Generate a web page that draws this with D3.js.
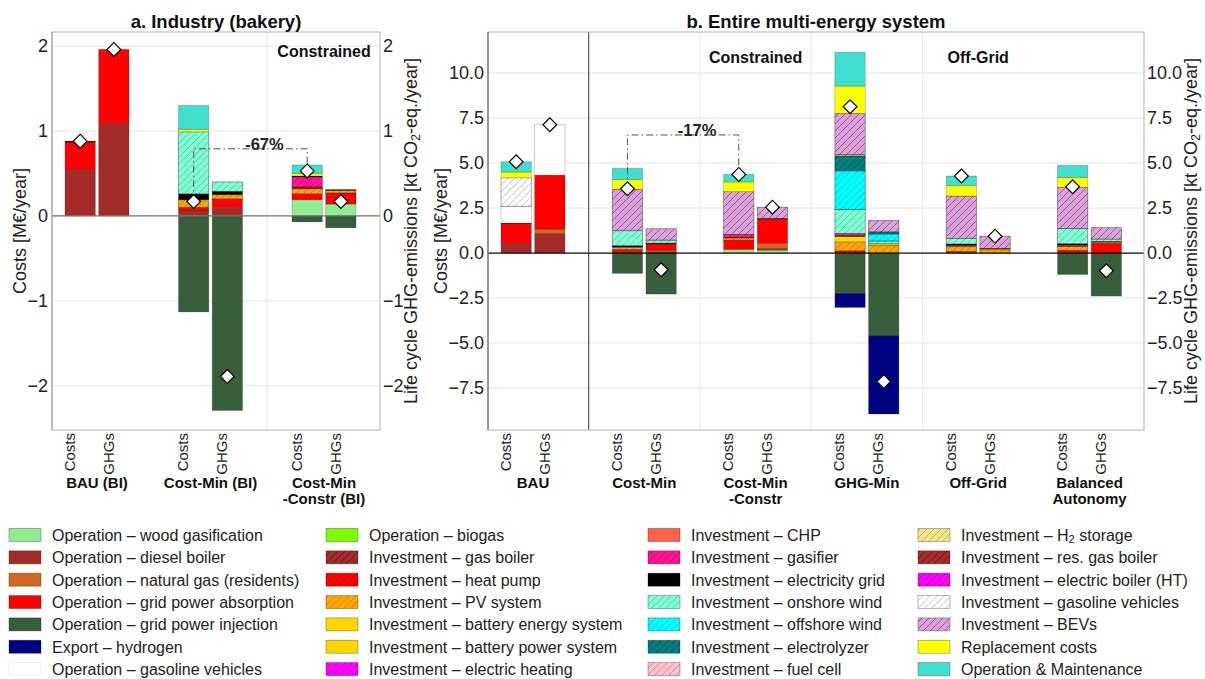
<!DOCTYPE html>
<html>
<head>
<meta charset="utf-8">
<script src="https://cdn.jsdelivr.net/npm/d3@7"></script>
<style>
  body { margin: 0; background: #fff; }
  svg { font-family: "Liberation Sans", Arial, sans-serif; }
</style>
</head>
<body>
<svg width="1205" height="679"></svg>
<script>
// ---- components (legend order, column by column) ----
const componentKeys = [
  'woodOp', 'dieselOp', 'gasResOp', 'gridAbs', 'gridInj', 'h2Exp', 'gasolineOp',
  'biogasOp', 'gasBoilerInv', 'heatPumpInv', 'pvInv', 'batEInv', 'batPInv', 'elHeatInv',
  'chpInv', 'gasifierInv', 'gridInv', 'onshoreInv', 'offshoreInv', 'electrolyzerInv', 'fuelCellInv',
  'h2StorInv', 'resBoilerInv', 'elBoilerInv', 'gasolineInv', 'bevInv', 'replacement', 'om'
];
const componentLabels = [
  'Operation – wood gasification', 'Operation – diesel boiler', 'Operation – natural gas (residents)',
  'Operation – grid power absorption', 'Operation – grid power injection', 'Export – hydrogen',
  'Operation – gasoline vehicles',
  'Operation – biogas', 'Investment – gas boiler', 'Investment – heat pump', 'Investment – PV system',
  'Investment – battery energy system', 'Investment – battery power system', 'Investment – electric heating',
  'Investment – CHP', 'Investment – gasifier', 'Investment – electricity grid', 'Investment – onshore wind',
  'Investment – offshore wind', 'Investment – electrolyzer', 'Investment – fuel cell',
  'Investment – H₂ storage', 'Investment – res. gas boiler', 'Investment – electric boiler (HT)',
  'Investment – gasoline vehicles', 'Investment – BEVs', 'Replacement costs', 'Operation & Maintenance'
];
const componentColors = [
  '#90EE90', '#A52A2A', '#D2691E', '#FF0000', '#365E3C', '#000080', '#FFFFFF',
  '#7CFC00', '#A52A2A', '#FF0000', '#FFA500', '#FFD700', '#FFD700', '#FF00FF',
  '#FF6347', '#FF1493', '#000000', '#7FFFD4', '#00FFFF', '#008080', '#FFC0CB',
  '#F0E68C', '#A52A2A', '#FF00FF', '#FFFFFF', '#DDA0DD', '#FFFF00', '#40E0D0'
];
const hatchedKeys = [
  'gasBoilerInv', 'heatPumpInv', 'pvInv', 'elHeatInv', 'gasifierInv', 'onshoreInv', 'offshoreInv',
  'electrolyzerInv', 'fuelCellInv', 'h2StorInv', 'resBoilerInv', 'elBoilerInv', 'gasolineInv', 'bevInv'
];
const darkHatchKeys = ['gasBoilerInv', 'resBoilerInv', 'elBoilerInv', 'electrolyzerInv', 'bevInv'];

const metrics = ['Costs', 'GHGs'];

// ---- a. Industry (bakery) ----
const industryScenarios = ['BAU (BI)', 'Cost-Min (BI)', 'Cost-Min\n-Constr (BI)'];
const industryCosts = [
  [['dieselOp', 0.55], ['gridAbs', 0.32], ['gridInv', 0.01]],
  [['dieselOp', 0.07], ['gridAbs', 0.03], ['pvInv', 0.09], ['gridInv', 0.07], ['onshoreInv', 0.73],
   ['replacement', 0.03], ['om', 0.28], ['gridInj', -1.13]],
  [['woodOp', 0.19], ['gridAbs', 0.07], ['pvInv', 0.06], ['gasBoilerInv', 0.02], ['gasifierInv', 0.12],
   ['gridInv', 0.01], ['replacement', 0.03], ['om', 0.10], ['gridInj', -0.07]]
];
const industryGhgs = [
  [['dieselOp', 1.09], ['gridAbs', 0.87]],
  [['dieselOp', 0.10], ['gridAbs', 0.10], ['pvInv', 0.05], ['gridInv', 0.04], ['onshoreInv', 0.11],
   ['gridInj', -2.29]],
  [['woodOp', 0.14], ['gridAbs', 0.13], ['pvInv', 0.03], ['gridInv', 0.01], ['gridInj', -0.14]]
];
const industryTicks = [-2, -1, 0, 1, 2];

// ---- b. Entire multi-energy system ----
const systemScenarios = ['BAU', 'Cost-Min', 'Cost-Min\n-Constr', 'GHG-Min', 'Off-Grid', 'Balanced\nAutonomy'];
const systemCosts = [
  [['dieselOp', 0.54], ['gridAbs', 1.11], ['gridInv', 0.02], ['gasolineOp', 0.93], ['gasolineInv', 1.58],
   ['replacement', 0.32], ['om', 0.57]],
  [['dieselOp', 0.07], ['gridAbs', 0.13], ['pvInv', 0.10], ['batEInv', 0.03], ['gridInv', 0.08],
   ['onshoreInv', 0.83], ['bevInv', 2.31], ['replacement', 0.54], ['om', 0.61], ['gridInj', -1.13]],
  [['woodOp', 0.20], ['gridAbs', 0.52], ['pvInv', 0.12], ['gridInv', 0.03], ['gasifierInv', 0.17],
   ['bevInv', 2.37], ['replacement', 0.54], ['om', 0.42]],
  [['gridAbs', 0.12], ['pvInv', 0.50], ['batEInv', 0.30], ['gridInv', 0.05], ['gasifierInv', 0.12],
   ['onshoreInv', 1.34], ['offshoreInv', 2.14], ['electrolyzerInv', 0.83], ['h2StorInv', 0.08],
   ['bevInv', 2.28], ['replacement', 1.52], ['om', 1.87], ['gridInj', -2.24], ['h2Exp', -0.78]],
  [['heatPumpInv', 0.08], ['pvInv', 0.30], ['gasifierInv', 0.06], ['gridInv', 0.06], ['onshoreInv', 0.30],
   ['bevInv', 2.37], ['replacement', 0.57], ['om', 0.54]],
  [['gridAbs', 0.15], ['pvInv', 0.22], ['gasifierInv', 0.08], ['gridInv', 0.07], ['onshoreInv', 0.85],
   ['bevInv', 2.28], ['replacement', 0.55], ['om', 0.67], ['gridInj', -1.19]]
];
const systemGhgs = [
  [['dieselOp', 1.09], ['gasResOp', 0.23], ['gridAbs', 3.01], ['gasolineOp', 2.80]],
  [['dieselOp', 0.08], ['gasResOp', 0.08], ['gridAbs', 0.34], ['gridInv', 0.05], ['onshoreInv', 0.17],
   ['bevInv', 0.63], ['gridInj', -2.28]],
  [['woodOp', 0.16], ['dieselOp', 0.10], ['gasResOp', 0.28], ['gridAbs', 1.34], ['gridInv', 0.05],
   ['bevInv', 0.62]],
  [['pvInv', 0.44], ['batEInv', 0.08], ['onshoreInv', 0.15], ['offshoreInv', 0.39], ['electrolyzerInv', 0.12],
   ['bevInv', 0.62], ['gridInj', -4.61], ['h2Exp', -4.33]],
  [['pvInv', 0.22], ['gridInv', 0.04], ['bevInv', 0.68]],
  [['gridAbs', 0.54], ['pvInv', 0.07], ['gridInv', 0.04], ['onshoreInv', 0.13], ['bevInv', 0.63],
   ['gridInj', -2.39]]
];
const systemTicks = [-7.5, -5, -2.5, 0, 2.5, 5, 7.5, 10];

// ---- setup ----
const FONT = '"Liberation Sans", Arial, sans-serif';
const svg = d3.select('svg');
const defs = svg.append('defs');
const colorOf = d3.scaleOrdinal().domain(componentKeys).range(componentColors);

hatchedKeys.forEach((key) => {
  const p = defs.append('pattern')
    .attr('id', 'hatch-' + key)
    .attr('patternUnits', 'userSpaceOnUse')
    .attr('width', 7)
    .attr('height', 7);
  p.append('rect').attr('width', 7).attr('height', 7).attr('fill', colorOf(key));
  p.append('path')
    .attr('d', 'M-1,1L1,-1M0,7L7,0M6,8L8,6')
    .attr('stroke', darkHatchKeys.includes(key) ? 'rgba(0,0,0,0.55)' : 'rgba(0,0,0,0.3)')
    .attr('stroke-width', 0.7);
});

function fillOf(key) {
  return hatchedKeys.includes(key) ? `url(#hatch-${key})` : colorOf(key);
}

function stackSegments(segs) {
  let pos = 0;
  let neg = 0;
  return segs.map(([key, v]) => {
    let y0;
    if (v >= 0) { y0 = pos; pos += v; return { key, y0, y1: pos }; }
    y0 = neg; neg += v;
    return { key, y0, y1: neg };
  });
}

// text with "₂" rendered as a subscript
function richText(sel, str, size) {
  const parts = str.split('₂');
  sel.append('tspan').text(parts[0]);
  if (parts.length > 1) {
    sel.append('tspan').attr('dy', size * 0.25).attr('font-size', size * 0.7).text('2');
    sel.append('tspan').attr('dy', -size * 0.25).text(parts[1]);
  }
}

function drawPanel(cfg) {
  const g = svg.append('g');
  const y = d3.scaleLinear().domain(cfg.domain).range([cfg.bottom, cfg.top]);
  const x = d3.scalePoint().domain(cfg.scenarios).range(cfg.centers);
  const inner = d3.scaleBand().domain(metrics).range([-32, 32]).paddingInner(0.1);
  const bw = inner.bandwidth();

  // horizontal grid
  g.append('g').selectAll('line').data(cfg.ticks).join('line')
    .attr('x1', cfg.left).attr('x2', cfg.right)
    .attr('y1', d => y(d)).attr('y2', d => y(d))
    .attr('stroke', '#e6e6e6');

  // group separators
  cfg.separators.forEach(([i, solid]) => {
    const sx = (x(cfg.scenarios[i]) + x(cfg.scenarios[i + 1])) / 2;
    g.append('line')
      .attr('x1', sx).attr('x2', sx).attr('y1', cfg.top).attr('y2', cfg.bottom)
      .attr('stroke', solid ? '#555' : '#ececec')
      .attr('stroke-width', solid ? 1.2 : 1);
  });

  // stacked bars
  const bars = [];
  cfg.scenarios.forEach((s, i) => {
    bars.push({ scenario: s, metric: 'Costs', segs: cfg.costs[i] });
    bars.push({ scenario: s, metric: 'GHGs', segs: cfg.ghgs[i] });
  });
  bars.forEach((b) => {
    const bx = x(b.scenario) + inner(b.metric);
    g.append('g').selectAll('rect').data(stackSegments(b.segs)).join('rect')
      .attr('x', bx)
      .attr('width', bw)
      .attr('y', d => y(Math.max(d.y0, d.y1)))
      .attr('height', d => Math.abs(y(d.y0) - y(d.y1)))
      .attr('fill', d => fillOf(d.key))
      .attr('stroke', d => (hatchedKeys.includes(d.key) ? 'rgba(0,0,0,0.5)' : 'rgba(0,0,0,0.28)'))
      .attr('stroke-width', 0.7);
  });

  // zero line
  g.append('line')
    .attr('x1', cfg.left).attr('x2', cfg.right).attr('y1', y(0)).attr('y2', y(0))
    .attr('stroke', cfg.zeroColor).attr('stroke-width', 1.2);

  // reduction bracket
  const br = cfg.bracket;
  const cx1 = x(cfg.scenarios[br.from]) + inner('Costs') + bw / 2;
  const cx2 = x(cfg.scenarios[br.to]) + inner('Costs') + bw / 2;
  const net1 = d3.sum(cfg.costs[br.from], d => d[1]);
  const net2 = d3.sum(cfg.costs[br.to], d => d[1]);
  g.append('path')
    .attr('d', `M${cx1},${y(net1)}V${y(br.level)}H${cx2}V${y(net2)}`)
    .attr('fill', 'none')
    .attr('stroke', '#555')
    .attr('stroke-width', 1)
    .attr('stroke-dasharray', '7,3,1.5,3');
  g.append('text')
    .attr('x', (cx1 + cx2) / 2 + 14)
    .attr('y', y(br.level) + 1)
    .attr('text-anchor', 'middle')
    .attr('font-size', 16.5)
    .attr('font-weight', 'bold')
    .attr('fill', '#222')
    .text(br.label);

  // net markers
  const diamond = d3.symbol(d3.symbolSquare, 95);
  bars.forEach((b) => {
    const net = d3.sum(b.segs, d => d[1]);
    g.append('path')
      .attr('d', diamond())
      .attr('transform', `translate(${x(b.scenario) + inner(b.metric) + bw / 2},${y(net)}) rotate(45)`)
      .attr('fill', '#fff')
      .attr('stroke', '#000')
      .attr('stroke-width', 1.2);
  });

  // axes
  const styleAxis = (a) => {
    a.select('.domain').remove();
    a.attr('font-size', 18).attr('font-family', FONT);
    a.selectAll('text').attr('fill', '#222');
  };
  g.append('g').attr('transform', `translate(${cfg.left},0)`)
    .call(d3.axisLeft(y).tickValues(cfg.ticks).tickFormat(cfg.format).tickSize(0).tickPadding(4))
    .call(styleAxis);
  g.append('g').attr('transform', `translate(${cfg.right},0)`)
    .call(d3.axisRight(y).tickValues(cfg.ticks).tickFormat(cfg.format).tickSize(0).tickPadding(3))
    .call(styleAxis);

  // frame
  g.append('rect')
    .attr('x', cfg.left).attr('y', cfg.top)
    .attr('width', cfg.right - cfg.left).attr('height', cfg.bottom - cfg.top)
    .attr('fill', 'none').attr('stroke', '#b5b5b5');
  g.append('line')
    .attr('x1', cfg.left).attr('x2', cfg.left).attr('y1', cfg.top).attr('y2', cfg.bottom)
    .attr('stroke', cfg.leftSpine);

  // metric tick labels
  const tickOffsets = { Costs: -28, GHGs: 11 };
  bars.forEach((b) => {
    const tx = x(b.scenario) + tickOffsets[b.metric];
    g.append('text')
      .attr('transform', `translate(${tx},${cfg.bottom + 3}) rotate(-90)`)
      .attr('text-anchor', 'end')
      .attr('dominant-baseline', 'central')
      .attr('font-size', 15)
      .attr('fill', '#222')
      .text(b.metric);
  });

  // scenario labels
  cfg.scenarios.forEach((s) => {
    s.split('\n').forEach((line, li) => {
      g.append('text')
        .attr('x', x(s))
        .attr('y', 488 + li * 16)
        .attr('text-anchor', 'middle')
        .attr('font-size', 15)
        .attr('font-weight', 'bold')
        .attr('fill', '#111')
        .text(line);
    });
  });

  // notes inside panel
  cfg.notes.forEach((n) => {
    g.append('text')
      .attr('x', x(cfg.scenarios[n.index]))
      .attr('y', n.y)
      .attr('text-anchor', 'middle')
      .attr('font-size', 16)
      .attr('font-weight', 'bold')
      .attr('fill', '#111')
      .text(n.text);
  });

  // title
  g.append('text')
    .attr('x', (cfg.left + cfg.right) / 2)
    .attr('y', 28)
    .attr('text-anchor', 'middle')
    .attr('font-size', 18.5)
    .attr('font-weight', 'bold')
    .attr('fill', '#111')
    .text(cfg.title);

  // y-axis titles
  const midY = (cfg.top + cfg.bottom) / 2;
  g.append('text')
    .attr('transform', `translate(${cfg.leftLabelX},${midY}) rotate(-90)`)
    .attr('text-anchor', 'middle')
    .attr('dominant-baseline', 'central')
    .attr('font-size', 18)
    .attr('fill', '#222')
    .text('Costs [M€/year]');
  g.append('text')
    .attr('transform', `translate(${cfg.rightLabelX},${midY}) rotate(-90)`)
    .attr('text-anchor', 'middle')
    .attr('dominant-baseline', 'central')
    .attr('font-size', 18)
    .attr('fill', '#222')
    .call(t => richText(t, 'Life cycle GHG-emissions [kt CO₂-eq./year]', 18));
}

drawPanel({
  title: 'a. Industry (bakery)',
  scenarios: industryScenarios,
  costs: industryCosts,
  ghgs: industryGhgs,
  ticks: industryTicks,
  format: d3.format('d'),
  domain: [-2.52, 2.165],
  left: 52, right: 380, top: 32, bottom: 430,
  centers: [97, 324],
  separators: [[1, false]],
  zeroColor: '#777',
  leftSpine: '#999',
  bracket: { from: 1, to: 2, level: 0.79, label: '-67%' },
  notes: [{ index: 2, text: 'Constrained', y: 57 }],
  leftLabelX: 20,
  rightLabelX: 411
});

drawPanel({
  title: 'b. Entire multi-energy system',
  scenarios: systemScenarios,
  costs: systemCosts,
  ghgs: systemGhgs,
  ticks: systemTicks,
  format: d3.format('.1f'),
  domain: [-9.83, 12.28],
  left: 488, right: 1144, top: 32, bottom: 430,
  centers: [533, 1089.5],
  separators: [[0, true], [1, false], [2, false], [3, false]],
  zeroColor: '#111',
  leftSpine: '#555',
  bracket: { from: 1, to: 2, level: 6.56, label: '-17%' },
  notes: [{ index: 2, text: 'Constrained', y: 63 }, { index: 4, text: 'Off-Grid', y: 63 }],
  leftLabelX: 441,
  rightLabelX: 1191
});

// ---- legend ----
const legendColX = [9, 326, 648, 918];
const legendRows = 7;
const legend = svg.append('g');
componentKeys.forEach((key, i) => {
  const col = Math.floor(i / legendRows);
  const row = i % legendRows;
  const cy = 535 + row * 22.35;
  const lx = legendColX[col];
  legend.append('rect')
    .attr('x', lx).attr('y', cy - 6.5)
    .attr('width', 32).attr('height', 13)
    .attr('fill', fillOf(key))
    .attr('stroke', key === 'gasolineOp' ? '#eee' : 'rgba(0,0,0,0.35)')
    .attr('stroke-width', 0.8);
  legend.append('text')
    .attr('x', lx + 43).attr('y', cy)
    .attr('dominant-baseline', 'central')
    .attr('font-size', 16)
    .attr('fill', '#222')
    .call(t => richText(t, componentLabels[i], 16));
});
</script>
</body>
</html>
